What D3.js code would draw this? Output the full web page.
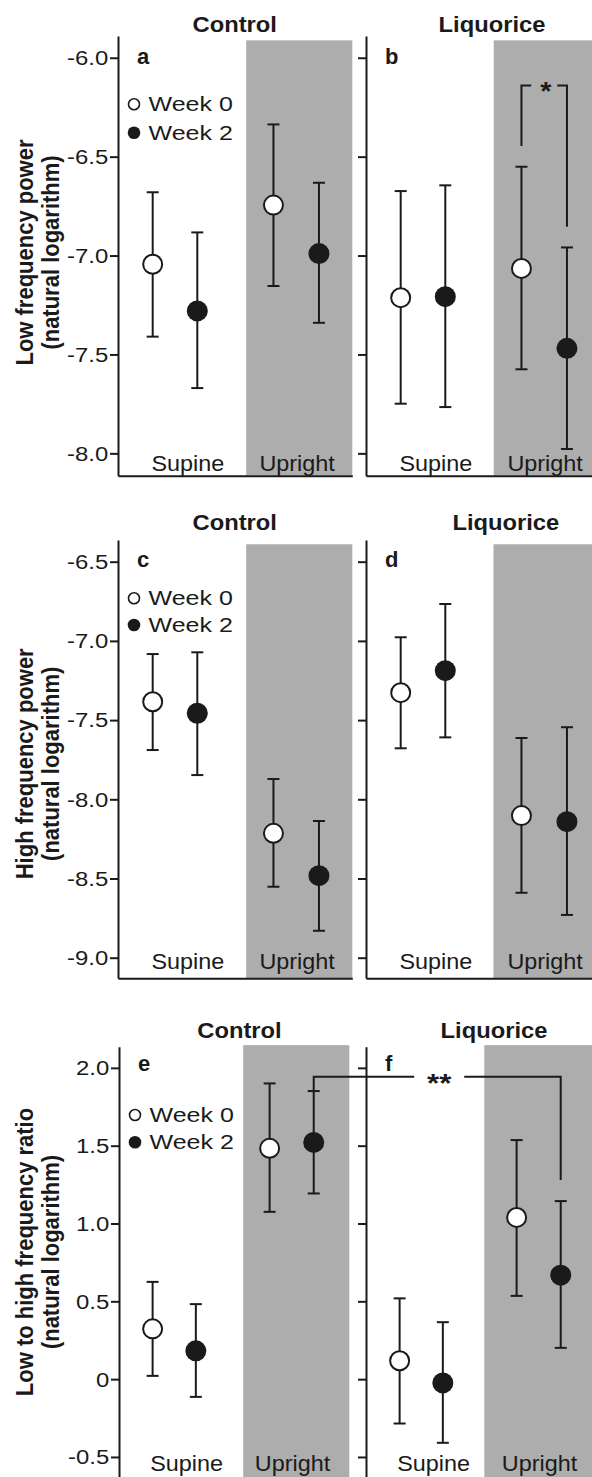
<!DOCTYPE html>
<html>
<head>
<meta charset="utf-8">
<script src="https://cdn.jsdelivr.net/npm/d3@7"></script>
<style>
  body { margin: 0; background: #fff; }
  svg { display: block; font-family: "Liberation Sans", Arial, sans-serif; }
</style>
</head>
<body>
<script>
// Categories
const groups = ['Control', 'Liquorice'];
const postures = ['Supine', 'Upright'];
const weeks = ['Week 0', 'Week 2'];
const panelLetters = [['a', 'b'], ['c', 'd'], ['e', 'f']];

// x slot of each point: [posture][week], and of the posture labels
const pointSlots = [[1.54, 3.52], [6.90, 8.92]];
const labelSlots = [3.1, 7.95];
// where the grey "Upright" band starts, per panel
const shadeStart = [[5.69, 5.67], [5.69, 5.66], [5.69, 5.42]];

// [mean, lower, upper] for Supine W0, Supine W2, Upright W0, Upright W2
const lfControl   = [[-7.044, -7.41, -6.68], [-7.28, -7.67, -6.883], [-6.745, -7.154, -6.337], [-6.99, -7.34, -6.632]];
const lfLiquorice = [[-7.213, -7.749, -6.674], [-7.208, -7.766, -6.645], [-7.065, -7.575, -6.551], [-7.469, -7.978, -6.959]];
const hfControl   = [[-7.384, -7.689, -7.083], [-7.457, -7.847, -7.072], [-8.215, -8.552, -7.872], [-8.482, -8.83, -8.137]];
const hfLiquorice = [[-7.327, -7.678, -6.977], [-7.188, -7.609, -6.767], [-8.103, -8.59, -7.613], [-8.141, -8.73, -7.545]];
const lhControl   = [[0.323, 0.021, 0.625], [0.182, -0.114, 0.482], [1.483, 1.075, 1.900], [1.521, 1.193, 1.851]];
const lhLiquorice = [[0.118, -0.285, 0.519], [-0.024, -0.409, 0.366], [1.039, 0.535, 1.536], [0.668, 0.201, 1.144]];

// Tick values and labels
const lfTicks = [-6.0, -6.5, -7.0, -7.5, -8.0];
const lfTickLabels = ['-6.0', '-6.5', '-7.0', '-7.5', '-8.0'];
const hfTicks = [-6.5, -7.0, -7.5, -8.0, -8.5, -9.0];
const hfTickLabels = ['-6.5', '-7.0', '-7.5', '-8.0', '-8.5', '-9.0'];
const lhTicks = [2.0, 1.5, 1.0, 0.5, 0, -0.5];
const lhTickLabels = ['2.0', '1.5', '1.0', '0.5', '0', '-0.5'];

// Significance brackets
const sigB = { label: '*', top: -6.14, legBottoms: [-6.446, -6.854] };        // panel b, upright W0 vs W2
const sigEF = { label: '**', top: 1.943, legBottoms: [1.857, 1.279] };        // upright W2, control vs liquorice

const rows = [
  { ticks: lfTicks, tickLabels: lfTickLabels, title: ['Low frequency power', '(natural logarithm)'], data: [lfControl, lfLiquorice] },
  { ticks: hfTicks, tickLabels: hfTickLabels, title: ['High frequency power', '(natural logarithm)'], data: [hfControl, hfLiquorice] },
  { ticks: lhTicks, tickLabels: lhTickLabels, title: ['Low to high frequency ratio', '(natural logarithm)'], data: [lhControl, lhLiquorice] }
];

// Layout of each row
const layout = [
  { top: 36, bottom: 475.7, domain: [-8.113, -5.89], shadeTop: -5.912, xLeft: [118, 366], width: 234.3, xMax: 10.4,
    titleY: 31.5, titleX: [234.7, 492], catY: 471, letterY: 63.5, legendY: [68.3, 96.7], ylabY: 252.5 },
  { top: 540, bottom: 978.3, domain: [-9.13, -6.363], shadeTop: -6.39, xLeft: [118, 366], width: 234.3, xMax: 10.4,
    titleY: 530, titleX: [234.7, 505.8], catY: 968.5, letterY: 567, legendY: [58.3, 85], ylabY: 763.8 },
  { top: 1046.7, bottom: 1480, domain: [-0.648, 2.136], shadeTop: 2.146, xLeft: [119, 366], width: 230.3, xMax: 10.55,
    titleY: 1038, titleX: [239.5, 494], catY: 1470.5, letterY: 1070.5, legendY: [68.3, 95.6], ylabY: 1252 }
];

const ink = '#1a1a1a';
const grey = '#adadad';

const svg = d3.select('body').append('svg')
  .attr('width', 592)
  .attr('height', 1477);

// text with a horizontal stretch, as in the original figure
function txt(g, x, y, s, size, bold, anchor, sx) {
  return g.append('text')
    .attr('transform', `translate(${x},${y}) scale(${sx},1)`)
    .attr('text-anchor', anchor)
    .style('font-size', size + 'px')
    .style('font-weight', bold ? 'bold' : 'normal')
    .attr('fill', ink)
    .text(s);
}

const scales = [];

rows.forEach((row, r) => {
  const L = layout[r];
  const y = d3.scaleLinear().domain(L.domain).range([L.bottom, L.top]);
  const x = d3.scaleLinear().domain([0, L.xMax]).range([0, L.width]);
  scales.push({ x, y });

  // y axis title
  row.title.forEach((t, i) => {
    svg.append('text')
      .attr('transform', `translate(${i === 0 ? 32.5 : 59},${L.ylabY}) scale(1.05,1) rotate(-90)`)
      .attr('text-anchor', 'middle')
      .style('font-size', '22px')
      .style('font-weight', 'bold')
      .attr('fill', ink)
      .text(t);
  });

  groups.forEach((grp, p) => {
    const g = svg.append('g').attr('transform', `translate(${L.xLeft[p]},0)`);

    // grey band for the upright posture
    g.append('rect')
      .attr('x', x(shadeStart[r][p]))
      .attr('y', y(L.shadeTop))
      .attr('width', x(L.xMax) - x(shadeStart[r][p]))
      .attr('height', y(L.domain[0]) - y(L.shadeTop))
      .attr('fill', grey);

    // group title
    txt(svg, L.titleX[p], L.titleY, grp, 22, true, 'middle', 1.08);

    // y axis
    const yAxis = g.append('g')
      .call(d3.axisLeft(y)
        .tickValues(row.ticks)
        .tickFormat((d, i) => row.tickLabels[i])
        .tickSize(8)
        .tickSizeOuter(0));
    yAxis.select('.domain').attr('stroke', ink).attr('stroke-width', 2);
    yAxis.selectAll('.tick line').attr('stroke', ink).attr('stroke-width', 2);
    yAxis.selectAll('.tick text')
      .attr('x', 0)
      .attr('dy', '0.35em')
      .attr('transform', 'translate(-9.7,0) scale(1.22,1)')
      .attr('fill', ink)
      .style('font-size', '19.6px')
      .style('opacity', p === 0 ? 1 : 0);

    // x axis (plain baseline)
    const xAxis = g.append('g')
      .attr('transform', `translate(0,${L.bottom})`)
      .call(d3.axisBottom(x).tickValues([]).tickSizeOuter(0));
    xAxis.select('.domain').attr('stroke', ink).attr('stroke-width', 2);

    // posture labels
    postures.forEach((pos, k) => {
      txt(g, x(labelSlots[k]), L.catY, pos, 22.5, false, 'middle', 1.04);
    });

    // panel letter
    txt(g, 19, L.letterY, panelLetters[r][p], 22, true, 'start', 1.0);

    // points with error bars
    const pts = row.data[p].map((d, i) => ({
      posture: Math.floor(i / 2), week: i % 2, mean: d[0], lo: d[1], hi: d[2]
    }));
    const pg = g.selectAll('g.pt').data(pts).enter().append('g').attr('class', 'pt');
    pg.append('line')
      .attr('x1', d => x(pointSlots[d.posture][d.week]))
      .attr('x2', d => x(pointSlots[d.posture][d.week]))
      .attr('y1', d => y(d.lo))
      .attr('y2', d => y(d.hi))
      .attr('stroke', ink).attr('stroke-width', 2);
    ['lo', 'hi'].forEach(k => {
      pg.append('line')
        .attr('x1', d => x(pointSlots[d.posture][d.week]) - 6)
        .attr('x2', d => x(pointSlots[d.posture][d.week]) + 6)
        .attr('y1', d => y(d[k]))
        .attr('y2', d => y(d[k]))
        .attr('stroke', ink).attr('stroke-width', 2);
    });
    pg.append('circle')
      .attr('cx', d => x(pointSlots[d.posture][d.week]))
      .attr('cy', d => y(d.mean))
      .attr('r', d => d.week === 0 ? 9.5 : 10.5)
      .attr('fill', d => d.week === 0 ? '#fff' : ink)
      .attr('stroke', ink)
      .attr('stroke-width', d => d.week === 0 ? 2 : 0);

    // legend in the control panels
    if (p === 0) {
      weeks.forEach((w, i) => {
        const cy = L.top + L.legendY[i];
        g.append('circle')
          .attr('cx', 16).attr('cy', cy).attr('r', i === 0 ? 5.5 : 6.3)
          .attr('fill', i === 0 ? '#fff' : ink)
          .attr('stroke', ink).attr('stroke-width', i === 0 ? 1.6 : 0);
        txt(g, 30.5, cy + 7, w, 20.5, false, 'start', 1.22);
      });
    }
  });
});

// bracket within panel b
{
  const L = layout[0], s = scales[0];
  const xa = L.xLeft[1] + s.x(pointSlots[1][0]);
  const xb = L.xLeft[1] + s.x(pointSlots[1][1]);
  const xm = (xa + xb) / 2, yt = s.y(sigB.top), gap = 13;
  const path = d3.path();
  path.moveTo(xa, s.y(sigB.legBottoms[0])); path.lineTo(xa, yt); path.lineTo(xm - gap, yt);
  path.moveTo(xm + gap, yt); path.lineTo(xb, yt); path.lineTo(xb, s.y(sigB.legBottoms[1]));
  svg.append('path').attr('d', path.toString()).attr('fill', 'none').attr('stroke', ink).attr('stroke-width', 2);
  txt(svg, xm + 1.5, yt + 15, sigB.label, 26, true, 'middle', 1.1);
}

// bracket between panels e and f
{
  const L = layout[2], s = scales[2];
  const xa = L.xLeft[0] + s.x(pointSlots[1][1]);
  const xb = L.xLeft[1] + s.x(pointSlots[1][1]);
  const xm = (xa + xb) / 2 + 2, yt = s.y(sigEF.top), gap = 25;
  const path = d3.path();
  path.moveTo(xa, s.y(sigEF.legBottoms[0])); path.lineTo(xa, yt); path.lineTo(xm - gap, yt);
  path.moveTo(xm + gap, yt); path.lineTo(xb, yt); path.lineTo(xb, s.y(sigEF.legBottoms[1]));
  svg.append('path').attr('d', path.toString()).attr('fill', 'none').attr('stroke', ink).attr('stroke-width', 2);
  txt(svg, xm, yt + 15, sigEF.label, 26, true, 'middle', 1.2);
}
</script>
</body>
</html>
